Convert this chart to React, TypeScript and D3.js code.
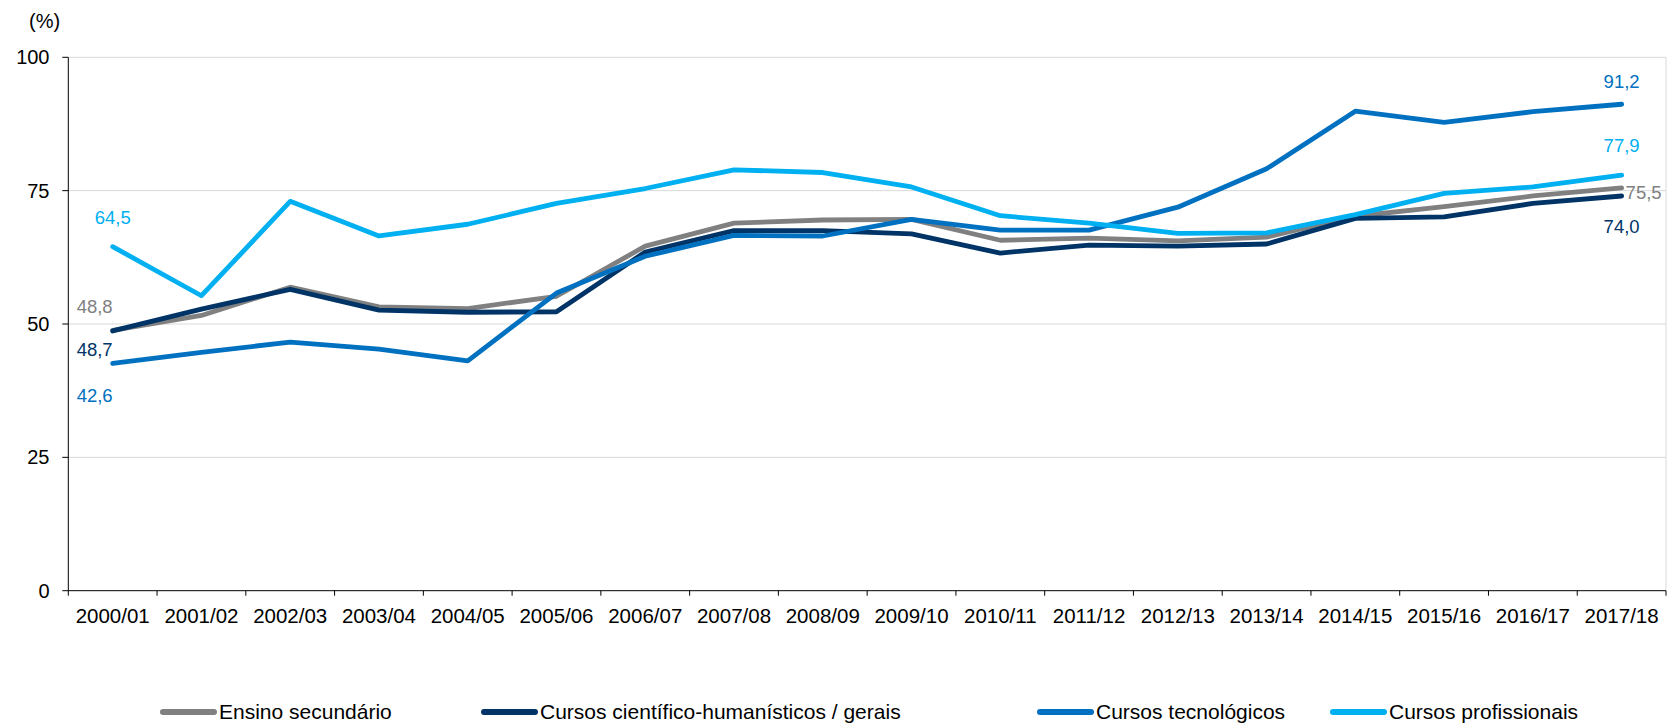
import React from "react";
import * as d3 from "d3";

const categories = ["2000/01","2001/02","2002/03","2003/04","2004/05","2005/06","2006/07","2007/08","2008/09","2009/10","2010/11","2011/12","2012/13","2013/14","2014/15","2015/16","2016/17","2017/18"];
const ensinoSecundario = [48.8, 51.6, 56.9, 53.2, 52.9, 55.2, 64.6, 68.9, 69.5, 69.6, 65.7, 66.1, 65.6, 66.3, 70.2, 72.0, 74.0, 75.5];
const cientificoHumanisticos = [48.7, 52.8, 56.5, 52.6, 52.2, 52.3, 63.5, 67.5, 67.5, 66.9, 63.3, 64.8, 64.6, 65.0, 69.8, 70.1, 72.6, 74.0];
const tecnologicos = [42.6, 44.7, 46.6, 45.3, 43.1, 55.8, 62.7, 66.6, 66.5, 69.6, 67.6, 67.6, 71.9, 79.1, 89.9, 87.8, 89.8, 91.2];
const profissionais = [64.5, 55.3, 73.0, 66.5, 68.7, 72.6, 75.4, 78.9, 78.4, 75.7, 70.3, 68.9, 67.0, 67.1, 70.5, 74.5, 75.7, 77.9];
const yTicks = [0, 25, 50, 75, 100];
const seriesNames = ["Ensino secundário", "Cursos científico-humanísticos / gerais", "Cursos tecnológicos", "Cursos profissionais"];
const seriesColors = ["#808080", "#003366", "#0070C0", "#00B0F0"];

const W = 1668, H = 725;
const FONT = "'Liberation Sans', Arial, Helvetica, sans-serif";

export default function App() {
  const left = 68.3, right = 1666, top = 57.3, bottom = 590.7;
  const x = d3.scaleBand<string>().domain(categories).range([left, right]).padding(0);
  const bw = x.bandwidth();
  const cx = (c: string) => (x(c) as number) + bw / 2;
  const y = d3.scaleLinear().domain([0, 100]).range([bottom, top]);
  const seriesData = [ensinoSecundario, cientificoHumanisticos, tecnologicos, profissionais];
  const line = d3.line<number>().x((_, i) => cx(categories[i])).y((v) => y(v));
  const fmt = (v: number) => v.toFixed(1).replace(".", ",");
  const first = categories[0];
  const last = categories[categories.length - 1];
  const fx = cx(first), lx = cx(last);

  // label placements: [series index, value, x, baseline dy relative to point, anchor]
  const labels = [
    { s: 3, v: profissionais[0], x: fx, dy: -22.7, anchor: "middle" },
    { s: 0, v: ensinoSecundario[0], x: fx, dy: -17.7, anchor: "end" },
    { s: 1, v: cientificoHumanisticos[0], x: fx, dy: 25, anchor: "end" },
    { s: 2, v: tecnologicos[0], x: fx, dy: 38.7, anchor: "end" },
    { s: 2, v: tecnologicos[17], x: lx, dy: -16, anchor: "middle" },
    { s: 3, v: profissionais[17], x: lx, dy: -22.7, anchor: "middle" },
    { s: 0, v: ensinoSecundario[17], x: lx + 4, dy: 11.5, anchor: "start" },
    { s: 1, v: cientificoHumanisticos[17], x: lx, dy: 37, anchor: "middle" },
  ];

  const legendPos = [160, 481, 1037, 1330];
  const legendY = 712;

  return (
    <svg width={W} height={H} style={{ position: "absolute", left: 0, top: 0, background: "#fff" }} fontFamily={FONT}>
      <rect x={0} y={0} width={W} height={H} fill="#fff" />
      {/* gridlines */}
      {yTicks.filter((t) => t > 0).map((t) => (
        <line key={t} x1={left} x2={right} y1={y(t)} y2={y(t)} stroke="#D9D9D9" strokeWidth={1} />
      ))}
      <line x1={right} x2={right} y1={top} y2={bottom} stroke="#D9D9D9" strokeWidth={1} />
      {/* y axis */}
      <line x1={left} x2={left} y1={top} y2={bottom} stroke="#000" strokeWidth={1} />
      {yTicks.map((t) => (
        <g key={t}>
          <line x1={left - 6} x2={left} y1={y(t)} y2={y(t)} stroke="#000" strokeWidth={1} />
          <text x={49.5} y={y(t)} dy="0.35em" textAnchor="end" fontSize={20} fill="#000">{t}</text>
        </g>
      ))}
      <text x={29} y={27.5} fontSize={20} fill="#000">(%)</text>
      {/* x axis */}
      <line x1={left} x2={right} y1={bottom} y2={bottom} stroke="#000" strokeWidth={1} />
      {categories.map((c) => (
        <line key={"t" + c} x1={x(c) as number} x2={x(c) as number} y1={bottom} y2={bottom + 5} stroke="#000" strokeWidth={1} />
      ))}
      <line x1={right} x2={right} y1={bottom} y2={bottom + 5} stroke="#000" strokeWidth={1} />
      {categories.map((c) => (
        <text key={"l" + c} x={cx(c)} y={623} textAnchor="middle" fontSize={20.5} fill="#000">{c}</text>
      ))}
      {/* lines */}
      {seriesData.map((d, i) => (
        <path key={i} d={line(d) as string} fill="none" stroke={seriesColors[i]} strokeWidth={4.8} strokeLinejoin="round" strokeLinecap="round" />
      ))}
      {/* data labels */}
      {labels.map((l, i) => (
        <text key={i} x={l.x} y={y(l.v) + l.dy} textAnchor={l.anchor as any} fontSize={18.5} fill={seriesColors[l.s]}>{fmt(l.v)}</text>
      ))}
      {/* legend */}
      {seriesNames.map((n, i) => (
        <g key={n}>
          <line x1={legendPos[i] + 3} x2={legendPos[i] + 54} y1={legendY} y2={legendY} stroke={seriesColors[i]} strokeWidth={6} strokeLinecap="round" />
          <text x={legendPos[i] + 59} y={legendY} dy="0.35em" fontSize={21} fill="#000">{n}</text>
        </g>
      ))}
    </svg>
  );
}
